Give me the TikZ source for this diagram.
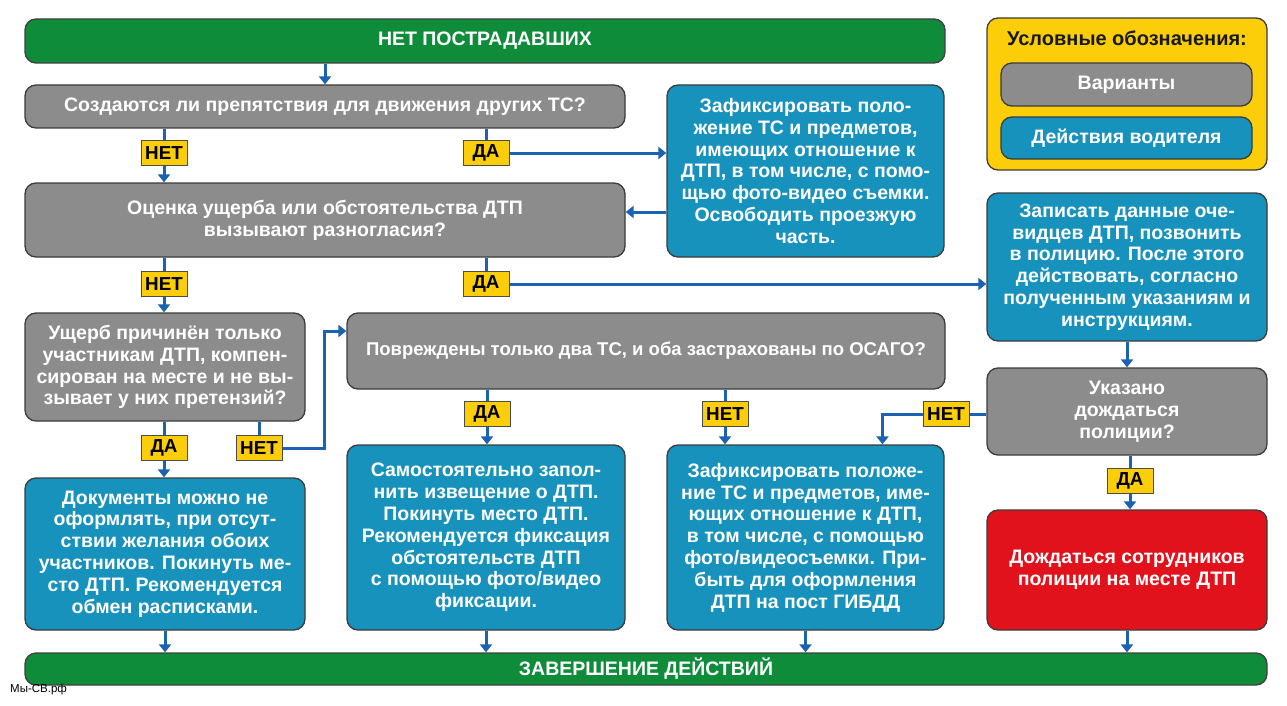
\documentclass[tikz,border=0pt]{standalone}
\usepackage{fontspec}
\setmainfont{Liberation Sans}
\usetikzlibrary{arrows.meta,positioning}
\definecolor{grn}{RGB}{14,140,58}
\definecolor{gry}{RGB}{140,140,140}
\definecolor{blu}{RGB}{22,146,188}
\definecolor{rd}{RGB}{226,18,28}
\definecolor{ylw}{RGB}{252,206,10}
\definecolor{arr}{RGB}{28,98,178}
\definecolor{edge}{RGB}{60,60,60}

\begin{document}
\begin{tikzpicture}[x=1pt, y=-1pt,
    box/.style={draw=edge, line width=1.3pt, rounded corners=11pt, text=white, align=center, inner sep=0pt,
        font=\bfseries\fontsize{19.5}{21.8}\selectfont},
    gbox/.style={box, fill=gry},
    bbox/.style={box, fill=blu},
    rbox/.style={box, fill=rd},
    bar/.style={box, fill=grn, draw=black!75},
    tag/.style={draw=black!70, fill=ylw, line width=1pt, minimum width=46pt, minimum height=25pt, inner sep=0pt,
        font=\bfseries\fontsize{18.8}{18.8}\selectfont},
    link/.style={draw=arr, line width=3pt},
    flow/.style={link, -{Triangle[length=8pt,width=12pt]}}]
    \fill[white] (0,0) rectangle (1287,706);
    \useasboundingbox (0,0) rectangle (1287,706);

    % top and bottom bars
    \node[bar, minimum width=920pt, minimum height=44pt] (start) at (485,41) {НЕТ ПОСТРАДАВШИХ};
    \node[bar, minimum width=1242pt, minimum height=32pt] (fin) at (646,669) {ЗАВЕРШЕНИЕ ДЕЙСТВИЙ};

    % legend
    \node[draw=edge, line width=1.3pt, fill=ylw, rounded corners=11pt, minimum width=280pt, minimum height=152pt] (legend) at (1127,94) {};
    \node[font=\bfseries\fontsize{20}{20}\selectfont, text=black!90] (legtitle) at (1127,38) {Условные обозначения:};
    \node[gbox, minimum width=251pt, minimum height=43pt] (legq) at (1126.5,84.5) {Варианты};
    \node[bbox, minimum width=251pt, minimum height=42pt] (legf) at (1126.5,138) {Действия водителя};

    % questions
    \node[gbox, minimum width=600pt, minimum height=43pt] (q1) at (325,106.5) {Создаются ли препятствия для движения других ТС?};
    \node[gbox, minimum width=600pt, minimum height=74pt] (q2) at (325,220) {Оценка ущерба или обстоятельства ДТП\\вызывают разногласия?};
    \node[gbox, minimum width=280pt, minimum height=108pt] (q3) at (165,367) {Ущерб причинён только\\участникам ДТП, компен-\\сирован на месте и не вы-\\зывает у них претензий?};
    \node[gbox, minimum width=598pt, minimum height=76pt, font=\bfseries\fontsize{18.5}{21.8}\selectfont] (q4) at (646,351) {Повреждены только два ТС, и оба застрахованы по ОСАГО?};
    \node[gbox, minimum width=280pt, minimum height=87pt] (q5) at (1127,411.5) {Указано\\дождаться\\полиции?};

    % driver actions
    \node[bbox, minimum width=277pt, minimum height=172pt] (fA) at (805.5,171) {Зафиксировать поло-\\жение ТС и предметов,\\имеющих отношение к\\ДТП, в том числе, с помо-\\щью фото-видео съемки.\\Освободить проезжую\\часть.};
    \node[bbox, minimum width=280pt, minimum height=148pt] (fB) at (1127,267) {Записать данные оче-\\видцев ДТП, позвонить\\в полицию. После этого\\действовать, согласно\\полученным указаниям и\\инструкциям.};
    \node[bbox, minimum width=280pt, minimum height=152pt] (fE) at (165,554) {Документы можно не\\оформлять, при отсут-\\ствии желания обоих\\участников. Покинуть ме-\\сто ДТП. Рекомендуется\\обмен расписками.};
    \node[bbox, minimum width=278pt, minimum height=185pt] (fC) at (486,537.5) {Самостоятельно запол-\\нить извещение о ДТП.\\Покинуть место ДТП.\\Рекомендуется фиксация\\обстоятельств ДТП\\с помощью фото/видео\\фиксации.};
    \node[bbox, minimum width=277pt, minimum height=185pt] (fD) at (805.5,537.5) {Зафиксировать положе-\\ние ТС и предметов, име-\\ющих отношение к ДТП,\\в том числе, с помощью\\фото/видеосъемки. При-\\быть для оформления\\ДТП на пост ГИБДД};
    \node[rbox, minimum width=280pt, minimum height=120pt] (fF) at (1127,570) {Дождаться сотрудников\\полиции на месте ДТП};

    % answers
    \node[tag] (t1) at (164,153) {НЕТ};
    \node[tag] (t2) at (486,153) {ДА};
    \node[tag] (t3) at (164,284) {НЕТ};
    \node[tag] (t4) at (486,284) {ДА};
    \node[tag] (t5) at (164,448) {ДА};
    \node[tag] (t6) at (259,448) {НЕТ};
    \node[tag] (t7) at (487,414) {ДА};
    \node[tag] (t8) at (725,414) {НЕТ};
    \node[tag] (t9) at (946,414) {НЕТ};
    \node[tag] (t10) at (1130,481) {ДА};

    \node[anchor=west, font=\fontsize{11.5}{11.5}\selectfont, inner sep=0pt] (site) at (10,690) {Мы-СВ.рф};

    % connectors
    \draw[flow] (start.south -| q1) -- (q1.north);
    \draw[link] (t1.north |- q1.south) -- (t1.north);
    \draw[flow] (t1.south) -- (t1.south |- q2.north);
    \draw[link] (t2.north |- q1.south) -- (t2.north);
    \draw[flow] (t2.east) -- (t2.east -| fA.west);
    \draw[flow] ([yshift=8pt]q2.east -| fA.west) -- ([yshift=8pt]q2.east);
    \draw[link] (t3.north |- q2.south) -- (t3.north);
    \draw[flow] (t3.south) -- (t3.south |- q3.north);
    \draw[link] (t4.north |- q2.south) -- (t4.north);
    \draw[flow] (t4.east) -- (t4.east -| fB.west);
    \draw[link] (t5.north |- q3.south) -- (t5.north);
    \draw[flow] (t5.south) -- (t5.south |- fE.north);
    \draw[link] (t6.north |- q3.south) -- (t6.north);
    \draw[flow] (t6.east) -- ++(42,0) |- ([yshift=20pt]q4.west);
    \draw[link] (t7.north |- q4.south) -- (t7.north);
    \draw[flow] (t7.south) -- (t7.south |- fC.north);
    \draw[link] (t8.north |- q4.south) -- (t8.north);
    \draw[flow] (t8.south) -- (t8.south |- fD.north);
    \draw[flow] (fB.south) -- (q5.north);
    \draw[link] (q5.west |- t9) -- (t9.east);
    \draw[flow] (t9.west) -| ([xshift=77pt]fD.north);
    \draw[link] (t10.north |- q5.south) -- (t10.north);
    \draw[flow] (t10.south) -- (t10.south |- fF.north);
    \draw[flow] (fE.south) -- (fE.south |- fin.north);
    \draw[flow] (fC.south) -- (fC.south |- fin.north);
    \draw[flow] (fD.south) -- (fD.south |- fin.north);
    \draw[flow] (fF.south) -- (fF.south |- fin.north);
\end{tikzpicture}
\end{document}
